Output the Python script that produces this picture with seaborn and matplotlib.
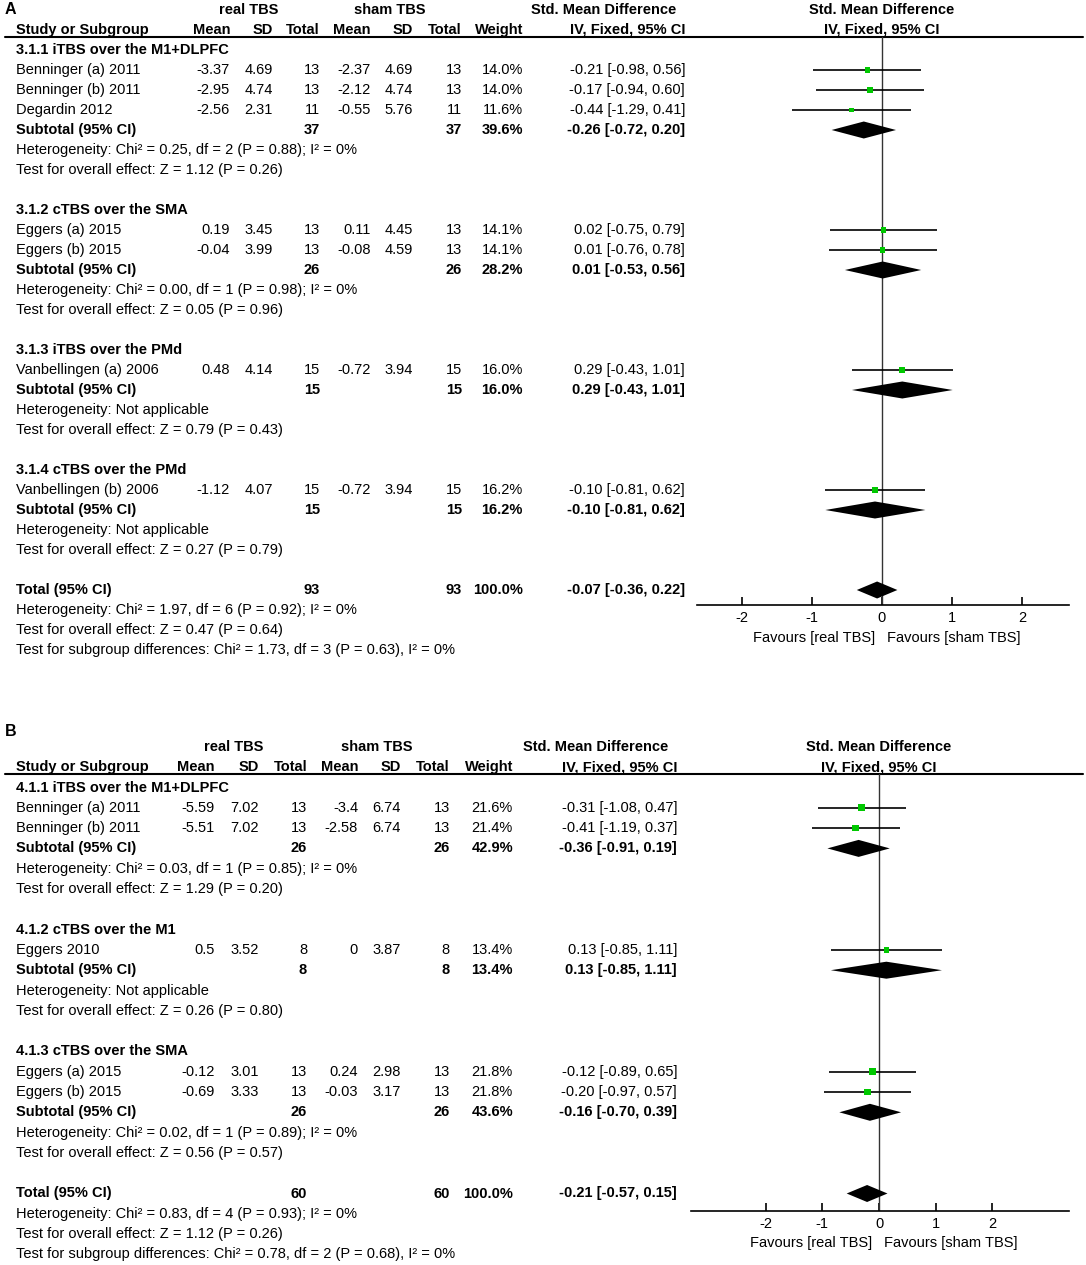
import numpy as np
import pandas as pd
import matplotlib
matplotlib.use("Agg")
import matplotlib.pyplot as plt
import seaborn as sns

sns.set_style("white")
plt.rcParams["font.family"] = ["Liberation Sans", "DejaVu Sans"]

FS = 10.5
GREEN = "#00c800"

# ---------------- panel A : data ----------------
a_groups = ["3.1.1 iTBS over the M1+DLPFC", "3.1.2 cTBS over the SMA",
            "3.1.3 iTBS over the PMd", "3.1.4 cTBS over the PMd"]
a_study = ["Benninger (a) 2011", "Benninger (b) 2011", "Degardin 2012",
           "Eggers (a) 2015", "Eggers (b) 2015",
           "Vanbellingen (a) 2006", "Vanbellingen (b) 2006"]
a_group_idx = [0, 0, 0, 1, 1, 2, 3]
a_real_mean = [-3.37, -2.95, -2.56, 0.19, -0.04, 0.48, -1.12]
a_real_sd = [4.69, 4.74, 2.31, 3.45, 3.99, 4.14, 4.07]
a_real_n = [13, 13, 11, 13, 13, 15, 15]
a_sham_mean = [-2.37, -2.12, -0.55, 0.11, -0.08, -0.72, -0.72]
a_sham_sd = [4.69, 4.74, 5.76, 4.45, 4.59, 3.94, 3.94]
a_sham_n = [13, 13, 11, 13, 13, 15, 15]
a_weight = [14.0, 14.0, 11.6, 14.1, 14.1, 16.0, 16.2]
a_smd = [-0.21, -0.17, -0.44, 0.02, 0.01, 0.29, -0.10]
a_lo = [-0.98, -0.94, -1.29, -0.75, -0.76, -0.43, -0.81]
a_hi = [0.56, 0.60, 0.41, 0.79, 0.78, 1.01, 0.62]

a_sub_real_n = [37, 26, 15, 15]
a_sub_sham_n = [37, 26, 15, 15]
a_sub_weight = [39.6, 28.2, 16.0, 16.2]
a_sub_smd = [-0.26, 0.01, 0.29, -0.10]
a_sub_lo = [-0.72, -0.53, -0.43, -0.81]
a_sub_hi = [0.20, 0.56, 1.01, 0.62]
a_sub_het = ["Heterogeneity: Chi² = 0.25, df = 2 (P = 0.88); I² = 0%",
             "Heterogeneity: Chi² = 0.00, df = 1 (P = 0.98); I² = 0%",
             "Heterogeneity: Not applicable",
             "Heterogeneity: Not applicable"]
a_sub_z = ["Test for overall effect: Z = 1.12 (P = 0.26)",
           "Test for overall effect: Z = 0.05 (P = 0.96)",
           "Test for overall effect: Z = 0.79 (P = 0.43)",
           "Test for overall effect: Z = 0.27 (P = 0.79)"]

a_tot_real_n, a_tot_sham_n, a_tot_weight = 93, 93, 100.0
a_tot_smd, a_tot_lo, a_tot_hi = -0.07, -0.36, 0.22
a_tot_notes = ["Heterogeneity: Chi² = 1.97, df = 6 (P = 0.92); I² = 0%",
               "Test for overall effect: Z = 0.47 (P = 0.64)",
               "Test for subgroup differences: Chi² = 1.73, df = 3 (P = 0.63), I² = 0%"]

# ---------------- panel B : data ----------------
b_groups = ["4.1.1 iTBS over the M1+DLPFC", "4.1.2 cTBS over the M1",
            "4.1.3 cTBS over the SMA"]
b_study = ["Benninger (a) 2011", "Benninger (b) 2011", "Eggers 2010",
           "Eggers (a) 2015", "Eggers (b) 2015"]
b_group_idx = [0, 0, 1, 2, 2]
b_real_mean = [-5.59, -5.51, 0.5, -0.12, -0.69]
b_real_sd = [7.02, 7.02, 3.52, 3.01, 3.33]
b_real_n = [13, 13, 8, 13, 13]
b_sham_mean = [-3.4, -2.58, 0, 0.24, -0.03]
b_sham_sd = [6.74, 6.74, 3.87, 2.98, 3.17]
b_sham_n = [13, 13, 8, 13, 13]
b_weight = [21.6, 21.4, 13.4, 21.8, 21.8]
b_smd = [-0.31, -0.41, 0.13, -0.12, -0.20]
b_lo = [-1.08, -1.19, -0.85, -0.89, -0.97]
b_hi = [0.47, 0.37, 1.11, 0.65, 0.57]

b_sub_real_n = [26, 8, 26]
b_sub_sham_n = [26, 8, 26]
b_sub_weight = [42.9, 13.4, 43.6]
b_sub_smd = [-0.36, 0.13, -0.16]
b_sub_lo = [-0.91, -0.85, -0.70]
b_sub_hi = [0.19, 1.11, 0.39]
b_sub_het = ["Heterogeneity: Chi² = 0.03, df = 1 (P = 0.85); I² = 0%",
             "Heterogeneity: Not applicable",
             "Heterogeneity: Chi² = 0.02, df = 1 (P = 0.89); I² = 0%"]
b_sub_z = ["Test for overall effect: Z = 1.29 (P = 0.20)",
           "Test for overall effect: Z = 0.26 (P = 0.80)",
           "Test for overall effect: Z = 0.56 (P = 0.57)"]

b_tot_real_n, b_tot_sham_n, b_tot_weight = 60, 60, 100.0
b_tot_smd, b_tot_lo, b_tot_hi = -0.21, -0.57, 0.15
b_tot_notes = ["Heterogeneity: Chi² = 0.83, df = 4 (P = 0.93); I² = 0%",
               "Test for overall effect: Z = 1.12 (P = 0.26)",
               "Test for subgroup differences: Chi² = 0.78, df = 2 (P = 0.68), I² = 0%"]

axis_ticks = [-2, -1, 0, 1, 2]


def ci_text(e, l, h):
    return f"{e:.2f} [{l:.2f}, {h:.2f}]"


def build_rows(group_idx, n_groups):
    # group header, studies, subtotal, heterogeneity, z-test, blank line
    hdr, st, sub = [], [0] * len(group_idx), []
    r = 0
    for g in range(n_groups):
        hdr.append(r)
        r += 1
        for i, gi in enumerate(group_idx):
            if gi == g:
                st[i] = r
                r += 1
        sub.append(r)
        r += 4
    return hdr, st, sub, r


def draw_panel(tx, fig, d, lay):
    y0, pitch = lay["first"], lay["pitch"]
    ypx = lambda r: y0 + pitch * r
    c = lay["cols"]
    hdr, st, sub, tot = build_rows(d["group_idx"], len(d["groups"]))

    def t(x, r_px, s, ha="left", bold=False, size=FS):
        tx.text(x, r_px, s, ha=ha, va="center", fontsize=size,
                fontweight="bold" if bold else "normal", color="black")

    # panel letter + headers
    t(5, lay["letter_y"], lay["letter"], bold=True, size=11.5)
    h1, h2 = lay["head1"], lay["head2"]
    t(lay["real_c"], h1, "real TBS", ha="center", bold=True)
    t(lay["sham_c"], h1, "sham TBS", ha="center", bold=True)
    t(lay["smd_c"], h1, "Std. Mean Difference", ha="center", bold=True)
    t(lay["zero_px"], h1, "Std. Mean Difference", ha="center", bold=True)
    t(c[0], h2, "Study or Subgroup", bold=True)
    for x, s in zip(c[1:], ["Mean", "SD", "Total", "Mean", "SD", "Total",
                            "Weight", "IV, Fixed, 95% CI"]):
        t(x, h2, s, ha="right", bold=True)
    t(lay["zero_px"], h2, "IV, Fixed, 95% CI", ha="center", bold=True)
    tx.plot([5, 1083], [lay["line_y"]] * 2, color="black", lw=1.5)

    for g, name in enumerate(d["groups"]):
        t(c[0], ypx(hdr[g]), name, bold=True)
        r = sub[g]
        t(c[0], ypx(r), "Subtotal (95% CI)", bold=True)
        t(c[3], ypx(r), str(d["sub_real_n"][g]), ha="right", bold=True)
        t(c[6], ypx(r), str(d["sub_sham_n"][g]), ha="right", bold=True)
        t(c[7], ypx(r), f"{d['sub_weight'][g]:.1f}%", ha="right", bold=True)
        t(c[8], ypx(r), ci_text(d["sub_smd"][g], d["sub_lo"][g], d["sub_hi"][g]),
          ha="right", bold=True)
        t(c[0], ypx(r + 1), d["sub_het"][g])
        t(c[0], ypx(r + 2), d["sub_z"][g])

    for i, name in enumerate(d["study"]):
        y = ypx(st[i])
        t(c[0], y, name)
        vals = [f"{d['real_mean'][i]:g}", f"{d['real_sd'][i]:g}", str(d["real_n"][i]),
                f"{d['sham_mean'][i]:g}", f"{d['sham_sd'][i]:g}", str(d["sham_n"][i]),
                f"{d['weight'][i]:.1f}%", ci_text(d["smd"][i], d["lo"][i], d["hi"][i])]
        for x, s in zip(c[1:], vals):
            t(x, y, s, ha="right")

    t(c[0], ypx(tot), "Total (95% CI)", bold=True)
    t(c[3], ypx(tot), str(d["tot_real_n"]), ha="right", bold=True)
    t(c[6], ypx(tot), str(d["tot_sham_n"]), ha="right", bold=True)
    t(c[7], ypx(tot), f"{d['tot_weight']:.1f}%", ha="right", bold=True)
    t(c[8], ypx(tot), ci_text(d["tot_smd"], d["tot_lo"], d["tot_hi"]), ha="right", bold=True)
    for k, s in enumerate(d["tot_notes"]):
        t(c[0], ypx(tot + 1 + k), s)

    t(lay["zero_px"] - 7, lay["fav_y"], "Favours [real TBS]", ha="right")
    t(lay["zero_px"] + 5, lay["fav_y"], "Favours [sham TBS]", ha="left")

    # forest axes
    W, H = 1086, 1265
    left, right = lay["plot_x"]
    top, bottom = lay["line_y"], lay["axis_y"]
    ax = fig.add_axes([left / W, 1 - bottom / H, (right - left) / W, (bottom - top) / H])
    ax.patch.set_alpha(0)
    z, ppu = lay["zero_px"], lay["ppu"]
    ax.set_xlim((left - z) / ppu, (right - z) / ppu)
    ax.set_ylim((bottom - y0) / pitch, (top - y0) / pitch)

    df = pd.DataFrame({"smd": d["smd"], "row": st, "weight": d["weight"]})
    ax.hlines(st, d["lo"], d["hi"], color="black", lw=1.2, zorder=2)
    sns.scatterplot(data=df, x="smd", y="row", size="weight", sizes=(0, 105),
                    size_norm=(0, 100), marker="s", color=GREEN, linewidth=0,
                    legend=False, ax=ax, zorder=3)

    hh = 8.5 / pitch
    dia = list(zip(d["sub_smd"], d["sub_lo"], d["sub_hi"], sub))
    dia.append((d["tot_smd"], d["tot_lo"], d["tot_hi"], tot))
    for e, l, h, r in dia:
        ax.fill([l, e, h, e], [r, r - hh, r, r + hh], color="black", lw=0, zorder=3)

    ax.axvline(0, color="#333333", lw=1.0, zorder=1)
    for s in ["top", "left", "right"]:
        ax.spines[s].set_visible(False)
    ax.spines["bottom"].set_color("black")
    ax.spines["bottom"].set_linewidth(1.2)
    ax.set_xticks(axis_ticks)
    ax.set_xticklabels([str(v) for v in axis_ticks])
    ax.set_yticks([])
    ax.tick_params(axis="x", direction="in", length=6, width=1.2, pad=4,
                   labelsize=FS, colors="black", bottom=True)
    ax.set_xlabel("")
    ax.set_ylabel("")


panel_a = dict(groups=a_groups, study=a_study, group_idx=a_group_idx,
               real_mean=a_real_mean, real_sd=a_real_sd, real_n=a_real_n,
               sham_mean=a_sham_mean, sham_sd=a_sham_sd, sham_n=a_sham_n,
               weight=a_weight, smd=a_smd, lo=a_lo, hi=a_hi,
               sub_real_n=a_sub_real_n, sub_sham_n=a_sub_sham_n,
               sub_weight=a_sub_weight, sub_smd=a_sub_smd, sub_lo=a_sub_lo,
               sub_hi=a_sub_hi, sub_het=a_sub_het, sub_z=a_sub_z,
               tot_real_n=a_tot_real_n, tot_sham_n=a_tot_sham_n,
               tot_weight=a_tot_weight, tot_smd=a_tot_smd, tot_lo=a_tot_lo,
               tot_hi=a_tot_hi, tot_notes=a_tot_notes)
panel_b = dict(groups=b_groups, study=b_study, group_idx=b_group_idx,
               real_mean=b_real_mean, real_sd=b_real_sd, real_n=b_real_n,
               sham_mean=b_sham_mean, sham_sd=b_sham_sd, sham_n=b_sham_n,
               weight=b_weight, smd=b_smd, lo=b_lo, hi=b_hi,
               sub_real_n=b_sub_real_n, sub_sham_n=b_sub_sham_n,
               sub_weight=b_sub_weight, sub_smd=b_sub_smd, sub_lo=b_sub_lo,
               sub_hi=b_sub_hi, sub_het=b_sub_het, sub_z=b_sub_z,
               tot_real_n=b_tot_real_n, tot_sham_n=b_tot_sham_n,
               tot_weight=b_tot_weight, tot_smd=b_tot_smd, tot_lo=b_tot_lo,
               tot_hi=b_tot_hi, tot_notes=b_tot_notes)

lay_a = dict(letter="A", letter_y=10, head1=10, head2=30, line_y=37,
             first=50, pitch=20.0, axis_y=605, fav_y=638,
             cols=[16, 230, 273, 320, 371, 413, 462, 523, 685],
             real_c=249, sham_c=390, smd_c=604,
             plot_x=(697, 1069), zero_px=882, ppu=70.0)
lay_b = dict(letter="B", letter_y=731, head1=747, head2=767, line_y=774,
             first=787.5, pitch=20.3, axis_y=1211, fav_y=1243,
             cols=[16, 215, 259, 307, 358, 401, 450, 513, 677],
             real_c=234, sham_c=377, smd_c=596,
             plot_x=(691, 1069), zero_px=879, ppu=56.7)

fig = plt.figure(figsize=(10.86, 12.65), dpi=100)
tx = fig.add_axes([0, 0, 1, 1])
tx.set_xlim(0, 1086)
tx.set_ylim(1265, 0)
tx.axis("off")

draw_panel(tx, fig, panel_a, lay_a)
draw_panel(tx, fig, panel_b, lay_b)

fig.savefig("out.png", dpi=100, facecolor="white")
